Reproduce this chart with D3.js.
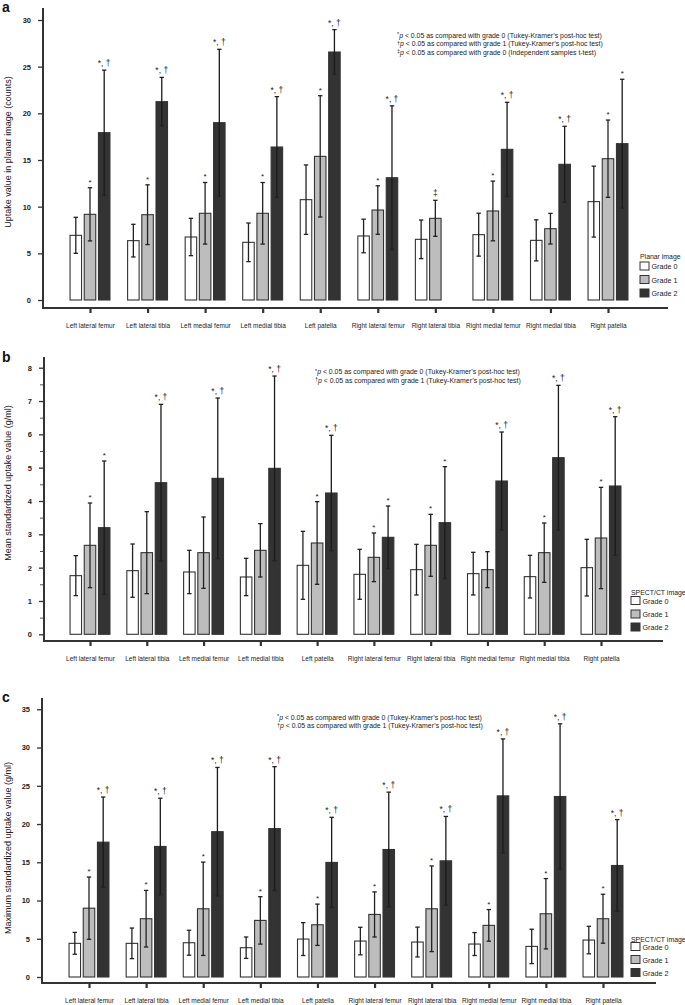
<!DOCTYPE html>
<html><head><meta charset="utf-8">
<script src="https://cdn.jsdelivr.net/npm/d3@7"></script>
<style>
body{margin:0;background:#fff;}
svg{display:block;font-family:"Liberation Sans",Arial,sans-serif;}
</style></head>
<body><svg id="chart" width="685" height="1005"></svg>
<script>
// ---------- DATA ----------
const categories = ["Left lateral femur","Left lateral tibia","Left medial femur","Left medial tibia","Left patella","Right lateral femur","Right lateral tibia","Right medial femur","Right medial tibia","Right patella"];
const grades = ["Grade 0","Grade 1","Grade 2"];

// Panel a: uptake value in planar image (counts)
const planarG0 = [6.93, 6.36, 6.75, 6.18, 10.75, 6.86, 6.5, 7.0, 6.39, 10.54];
const planarG0sd = [1.93, 1.75, 2.0, 2.07, 3.72, 1.8, 2.07, 2.3, 2.2, 3.8];
const planarG1 = [9.18, 9.14, 9.29, 9.29, 15.39, 9.64, 8.75, 9.54, 7.64, 15.14];
const planarG1sd = [2.85, 3.2, 3.3, 3.3, 6.5, 2.6, 1.93, 3.2, 1.64, 4.14];
const planarG2 = [17.93, 21.25, 19.0, 16.39, 26.57, 13.1, null, 16.14, 14.54, 16.75];
const planarG2sd = [6.7, 2.6, 7.86, 5.4, 2.4, 7.7, null, 5.04, 4.07, 6.9];
const planarSig1 = ["*","*","*","*","*","*","\u2021","*","","*"];
const planarSig2 = ["*, \u2020","*, \u2020","*, \u2020","*, \u2020","*, \u2020","*, \u2020","","*, \u2020","*, \u2020","*"];
const planarTicks = [0,5,10,15,20,25,30];

// Panel b: mean standardized uptake value (g/ml)
const meanG0 = [1.76, 1.91, 1.87, 1.72, 2.07, 1.8, 1.94, 1.82, 1.73, 2.0];
const meanG0sd = [0.6, 0.8, 0.65, 0.56, 1.02, 0.75, 0.76, 0.64, 0.64, 0.85];
const meanG1 = [2.67, 2.45, 2.45, 2.52, 2.74, 2.31, 2.67, 1.94, 2.45, 2.89];
const meanG1sd = [1.27, 1.23, 1.07, 0.8, 1.24, 0.73, 0.93, 0.54, 0.89, 1.52];
const meanG2 = [3.2, 4.55, 4.68, 4.98, 4.24, 2.91, 3.35, 4.6, 5.3, 4.45];
const meanG2sd = [2.0, 2.35, 2.41, 2.77, 1.73, 0.94, 1.68, 1.47, 2.17, 2.08];
const meanSig1 = ["*","","","","*","*","*","","*","*"];
const meanSig2 = ["*","*, \u2020","*, \u2020","*, \u2020","*, \u2020","*","*","*, \u2020","*, \u2020","*, \u2020"];
const meanTicks = [0,1,2,3,4,5,6,7,8];

// Panel c: maximum standardized uptake value (g/ml)
const maxG0 = [4.4, 4.4, 4.48, 3.83, 4.96, 4.7, 4.57, 4.31, 4.0, 4.83];
const maxG0sd = [1.43, 2.0, 1.63, 1.4, 2.15, 1.8, 1.95, 1.5, 2.25, 1.8];
const maxG1 = [9.0, 7.62, 8.92, 7.4, 6.83, 8.18, 8.92, 6.75, 8.27, 7.62];
const maxG1sd = [4.07, 3.7, 6.1, 3.1, 2.7, 2.95, 5.6, 2.07, 4.6, 3.2];
const maxG2 = [17.63, 17.07, 19.0, 19.4, 14.98, 16.67, 15.19, 23.68, 23.6, 14.58];
const maxG2sd = [5.9, 6.3, 8.4, 8.1, 5.9, 7.5, 5.8, 7.45, 9.5, 6.0];
const maxSig1 = ["*","*","*","*","*","*","*","*","*","*"];
const maxSig2 = ["*, \u2020","*, \u2020","*, \u2020","*, \u2020","*, \u2020","*, \u2020","*, \u2020","*, \u2020","*, \u2020","*, \u2020"];
const maxTicks = [0,5,10,15,20,25,30,35];

const noteLinesA = [["*","p"," < 0.05 as compared with grade 0 (Tukey-Kramer\u2019s post-hoc test)"],
                    ["\u2020","p"," < 0.05 as compared with grade 1 (Tukey-Kramer\u2019s post-hoc test)"],
                    ["\u2021","p"," < 0.05 as compared with grade 0 (Independent samples t-test)"]];
const noteLinesBC = noteLinesA.slice(0,2);

// ---------- STYLE / LAYOUT ----------
const fills = ["#ffffff","#bdbdbd","#333333"];
const ink = "#333";
const svg = d3.select("#chart");

const panels = [
  {letter:"a", ylabel:"Uptake value in planar image (counts)", means:[planarG0,planarG1,planarG2], sds:[planarG0sd,planarG1sd,planarG2sd],
   sig:[[],planarSig1,planarSig2], ticks:planarTicks, minor:null, dmax:30,
   axX:43, axTop:8, y0:300, yMax:20, xAxY:308, xEnd:668, c0:90, c1:608,
   letterY:12, labX:8, labY:152, legTitle:"Planar image", legX:640, legY:256, legBox:[262,275.5,289],
   notes:noteLinesA, noteX:397, noteY:[37.5,46,54.5]},
  {letter:"b", ylabel:"Mean standardized uptake value (g/ml)", means:[meanG0,meanG1,meanG2], sds:[meanG0sd,meanG1sd,meanG2sd],
   sig:[[],meanSig1,meanSig2], ticks:meanTicks, minor:0.5, dmax:8,
   axX:44, axTop:357, y0:634.3, yMax:367.7, xAxY:641, xEnd:663, c0:90, c1:601,
   letterY:362, labX:8, labY:483, legTitle:"SPECT/CT image", legX:631, legY:592, legBox:[596.5,610,623],
   notes:noteLinesBC, noteX:315, noteY:[374,382.5]},
  {letter:"c", ylabel:"Maximum standardized uptake value (g/ml)", means:[maxG0,maxG1,maxG2], sds:[maxG0sd,maxG1sd,maxG2sd],
   sig:[[],maxSig1,maxSig2], ticks:maxTicks, minor:null, dmax:35,
   axX:42, axTop:698, y0:977, yMax:709.3, xAxY:983, xEnd:656, c0:89, c1:603,
   letterY:702, labX:8, labY:848, legTitle:"SPECT/CT image", legX:631, legY:939, legBox:[942.5,955.5,968.5],
   notes:noteLinesBC, noteX:277, noteY:[719.5,728]}
];

const barW = 11.5, stride = 14.2;

panels.forEach(p => {
  const g = svg.append("g");
  const y = d3.scaleLinear().domain([0,p.dmax]).range([p.y0,p.yMax]);
  const x = d3.scalePoint().domain(categories).range([p.c0,p.c1]);

  g.append("text").attr("x",2).attr("y",p.letterY).attr("font-size",14).attr("font-weight","bold").attr("fill","#111").text(p.letter);

  const yAxis = d3.axisLeft(y).tickValues(p.ticks).tickSize(5).tickPadding(7).tickFormat(d3.format("d"));
  const ya = g.append("g").attr("transform",`translate(${p.axX},0)`).call(yAxis);
  ya.select(".domain").remove();
  ya.selectAll(".tick line").attr("stroke",ink).attr("stroke-width",1.3);
  ya.selectAll(".tick text").attr("font-size",7.5).attr("font-weight","bold").attr("fill","#222").attr("font-family","Liberation Sans, Arial");
  if (p.minor) {
    const minors = d3.range(p.minor, p.dmax, 1);
    const ym = d3.axisLeft(y).tickValues(minors).tickSize(4).tickFormat("");
    const yma = g.append("g").attr("transform",`translate(${p.axX},0)`).call(ym);
    yma.select(".domain").remove();
    yma.selectAll(".tick line").attr("stroke","#555").attr("stroke-width",1);
  }
  g.append("line").attr("x1",p.axX).attr("x2",p.axX).attr("y1",p.axTop).attr("y2",p.xAxY+1)
    .attr("stroke",ink).attr("stroke-width",2);

  const xAxis = d3.axisBottom(x).tickSize(5).tickPadding(10);
  const xa = g.append("g").attr("transform",`translate(0,${p.xAxY})`).call(xAxis);
  xa.select(".domain").remove();
  xa.selectAll(".tick line").attr("stroke",ink).attr("stroke-width",2.2);
  xa.selectAll(".tick text").attr("font-size",6.5).attr("fill","#222").attr("font-family","Liberation Sans, Arial");
  g.append("line").attr("x1",p.axX-1).attr("x2",p.xEnd).attr("y1",p.xAxY).attr("y2",p.xAxY)
    .attr("stroke",ink).attr("stroke-width",2);

  g.append("text").attr("transform",`translate(${p.labX+3},${p.labY}) rotate(-90)`).attr("text-anchor","middle")
    .attr("font-size",9).attr("fill","#222").text(p.ylabel);

  for (let k=0;k<3;k++){
    const data = categories.map((c,i)=>({c, m:p.means[k][i], s:p.sds[k][i], sig:(p.sig[k][i]||"")})).filter(d=>d.m!==null);
    const off = (k-1)*stride;
    const bg = g.append("g");
    bg.selectAll("rect").data(data).join("rect")
      .attr("x",d=>x(d.c)+off-barW/2).attr("width",barW)
      .attr("y",d=>y(d.m)).attr("height",d=>y(0)-y(d.m))
      .attr("fill",fills[k]).attr("stroke",ink).attr("stroke-width",1.1);
    const eg = bg.selectAll("g.err").data(data).join("g").attr("class","err");
    const cx = d=>x(d.c)+off;
    eg.append("line").attr("x1",cx).attr("x2",cx).attr("y1",d=>y(d.m+d.s)).attr("y2",d=>y(d.m-d.s))
      .attr("stroke",k===2?"#1a1a1a":"#222").attr("stroke-width",1.3);
    eg.append("line").attr("x1",d=>cx(d)-2.2).attr("x2",d=>cx(d)+2.2).attr("y1",d=>y(d.m+d.s)).attr("y2",d=>y(d.m+d.s))
      .attr("stroke","#222").attr("stroke-width",1.3);
    eg.append("line").attr("x1",d=>cx(d)-2.2).attr("x2",d=>cx(d)+2.2).attr("y1",d=>y(d.m-d.s)).attr("y2",d=>y(d.m-d.s))
      .attr("stroke","#222").attr("stroke-width",1.3);
    eg.append("text").attr("x",cx).attr("y",d=>y(d.m+d.s)-(d.sig==="*"?3:4)).attr("text-anchor","middle")
      .attr("font-size",d=>d.sig==="*"?8:8.5).attr("fill","#222").text(d=>d.sig);
  }

  const lg = g.append("g");
  lg.append("text").attr("x",p.legX).attr("y",p.legY+2.5).attr("font-size",6.9).attr("fill","#222").text(p.legTitle);
  grades.forEach((gr,k)=>{
    lg.append("rect").attr("x",p.legX).attr("y",p.legBox[k]).attr("width",9).attr("height",8)
      .attr("fill",fills[k]).attr("stroke",ink).attr("stroke-width",1);
    lg.append("text").attr("x",p.legX+11.5).attr("y",p.legBox[k]+7).attr("font-size",7.2).attr("fill","#222").text(gr);
  });

  p.notes.forEach((ln,i)=>{
    const t = g.append("text").attr("x",p.noteX).attr("y",p.noteY[i]).attr("font-size",6.9).attr("fill","#222");
    t.append("tspan").attr("font-size",5.5).attr("dy",-1.5).text(ln[0]);
    t.append("tspan").attr("font-style","italic").attr("dy",1.5).text(ln[1]);
    t.append("tspan").text(ln[2]);
  });
});
</script></body></html>
